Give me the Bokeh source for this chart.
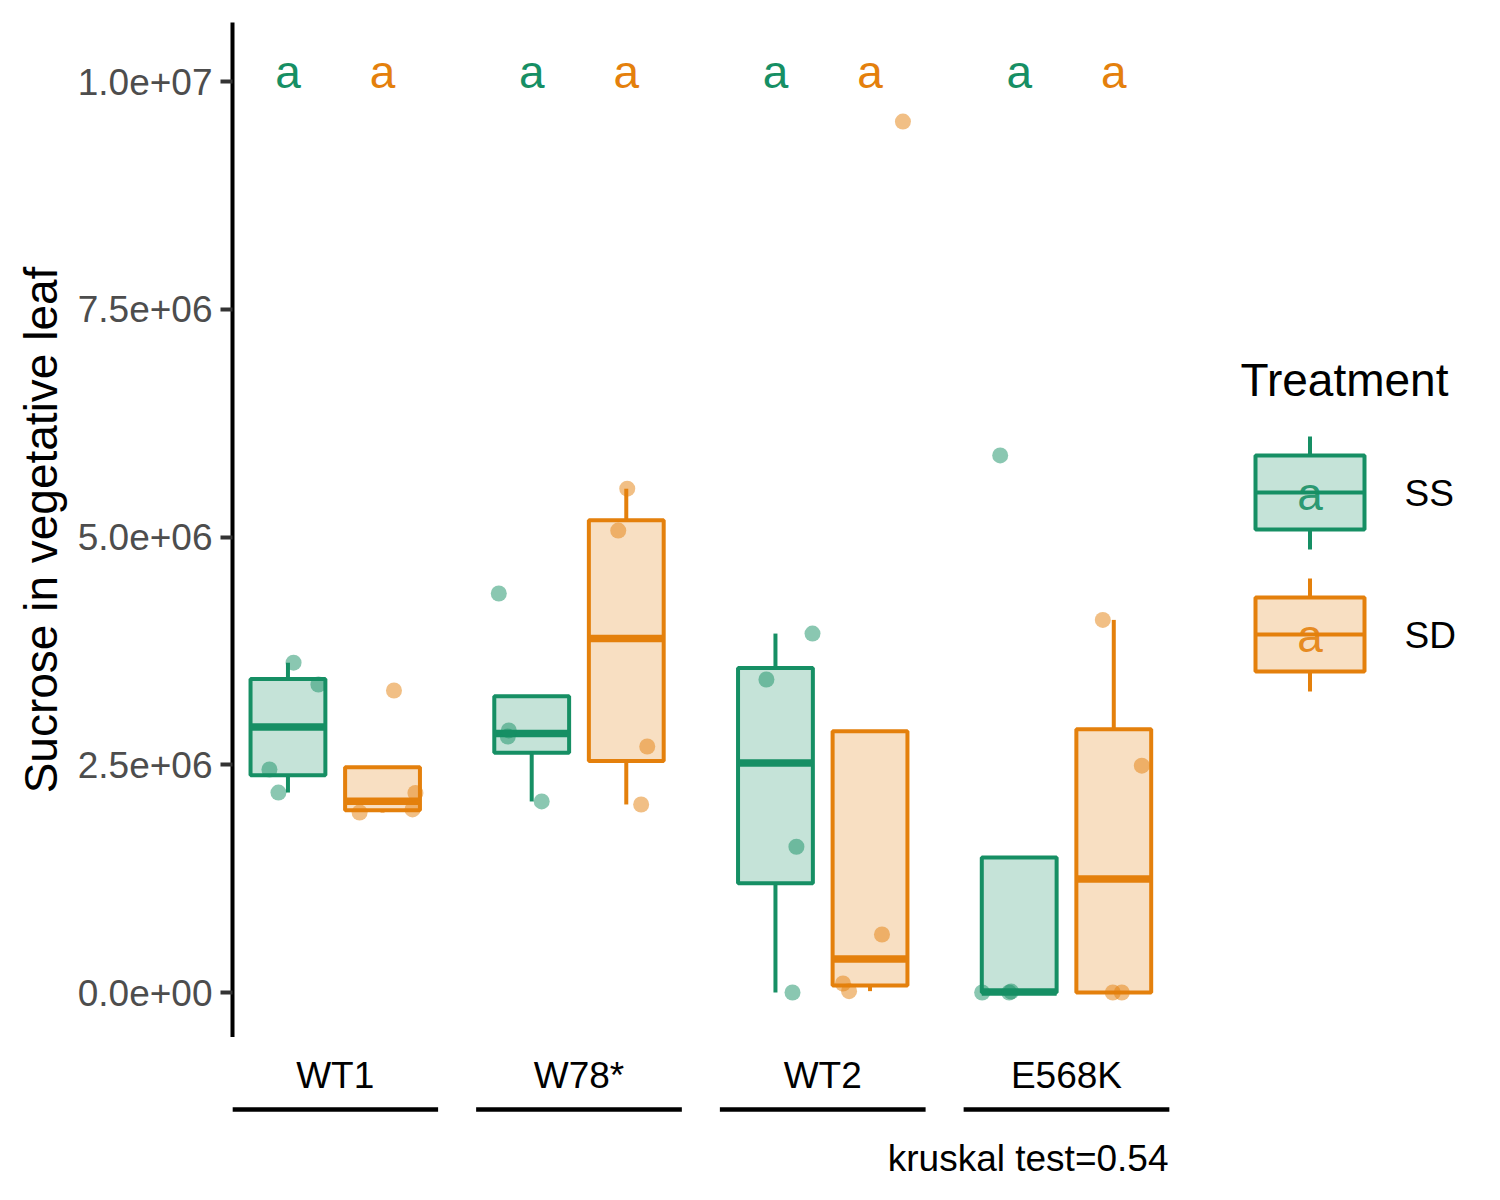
import numpy as np
from bokeh.plotting import figure
from bokeh.layouts import column
from bokeh.models import Range1d, FixedTicker, CustomJSTickFormatter, ColumnDataSource
from bokeh.core.properties import value
from bokeh.embed import file_html
from bokeh.resources import INLINE

# ---------------- data ----------------
genotypes = ["WT1", "W78*", "WT2", "E568K"]
treatments = ["SS", "SD"]
line_colors = ["#168F64", "#E4800C"]

# sucrose in vegetative leaf, one list per genotype
ss_values = [
    [3.62e6, 3.38e6, 2.448e6, 2.195e6],
    [4.38e6, 2.809e6, 2.877e6, 2.097e6],
    [3.94e6, 3.436e6, 1.60e6, 0.0],
    [5.895e6, 0.0, 0.0, 0.01e6],
]
sd_values = [
    [3.315e6, 2.19e6, 1.976e6, 2.01e6],
    [5.53e6, 5.07e6, 2.70e6, 2.064e6],
    [9.56e6, 0.637e6, 0.099e6, 0.015e6],
    [4.09e6, 2.49e6, 0.0, 0.0],
]
# horizontal jitter of each point (category units)
ss_jitter = [
    [0.023, 0.125, -0.076, -0.039],
    [-0.135, -0.098, -0.094, 0.041],
    [0.152, -0.037, 0.086, 0.070],
    [-0.078, -0.152, -0.041, -0.033],
]
sd_jitter = [
    [0.047, 0.135, -0.094, 0.123],
    [0.004, -0.033, 0.086, 0.061],
    [0.135, 0.049, -0.111, -0.086],
    [-0.045, 0.115, -0.004, 0.033],
]
ss_letters = ["a", "a", "a", "a"]
sd_letters = ["a", "a", "a", "a"]
letter_y = 1.01e7
y_ticks = [0, 2.5e6, 5.0e6, 7.5e6, 1.0e7]
y_title = "Sucrose in vegetative leaf"
legend_title = "Treatment"
caption = "kruskal test=0.54"

values_by_trt = [ss_values, sd_values]
jitter_by_trt = [ss_jitter, sd_jitter]
letters_by_trt = [ss_letters, sd_letters]

# ---------------- layout constants ----------------
FONT = "Liberation Sans"
DODGE = 0.194
BOX_W = 0.307
X0 = 0.5785            # left edge of panel in category units
PX_PER_CAT = 243.75
PX_PER_UNIT = 91.1e-6  # pixels per y unit
Y0_PX = 992.0


def dx(px):
    return X0 + (px - 232.0) / PX_PER_CAT


def dy(py):
    return (Y0_PX - py) / PX_PER_UNIT


def box_stats(v):
    v = np.asarray(v, dtype=float)
    q = np.percentile(v, [0, 25, 50, 75, 100])
    iqr = q[3] - q[1]
    out = (v < q[1] - 1.5 * iqr) | (v > q[3] + 1.5 * iqr)
    if out.any():
        rng = np.concatenate([q[1:4], v[~out]])
        q[0], q[4] = rng.min(), rng.max()
    return q


xr = Range1d(X0, dx(1480))
p = figure(width=1480, height=1037, output_backend="svg", toolbar_location=None,
           x_range=xr, y_range=Range1d(dy(1037), dy(22)),
           x_axis_location=None, min_border_left=232, min_border_top=22,
           min_border_bottom=0, min_border_right=0)
p.outline_line_color = None
p.xgrid.visible = False
p.ygrid.visible = False
p.background_fill_color = "white"
p.border_fill_color = "white"

yax = p.yaxis[0]
yax.ticker = FixedTicker(ticks=y_ticks)
yax.formatter = CustomJSTickFormatter(code="""
const s = tick.toExponential(1);
const parts = s.split("e");
let e = parts[1];
const sign = e[0] === "-" ? "-" : "+";
e = e.replace("+", "").replace("-", "");
if (e.length < 2) { e = "0" + e; }
return parts[0] + "e" + sign + e;
""")
yax.axis_line_color = "black"
yax.axis_line_width = 4
yax.major_tick_line_color = "#333333"
yax.major_tick_line_width = 4
yax.major_tick_out = 12
yax.major_tick_in = 0
yax.minor_tick_line_color = None
yax.major_label_text_font = FONT
yax.major_label_text_font_size = "37px"
yax.major_label_text_color = "#4D4D4D"
yax.major_label_standoff = 8
yax.axis_label = y_title
yax.axis_label_text_font = FONT
yax.axis_label_text_font_size = "46px"
yax.axis_label_text_font_style = "normal"
yax.axis_label_text_color = "black"
yax.axis_label_standoff = 8

for ti, trt in enumerate(treatments):
    col = line_colors[ti]
    sign = -1 if ti == 0 else 1
    cx, q0, q1, q2, q3, q4 = [], [], [], [], [], []
    px, py = [], []
    for gi, g in enumerate(genotypes):
        c = gi + 1 + sign * DODGE
        st = box_stats(values_by_trt[ti][gi])
        cx.append(c)
        q0.append(st[0]); q1.append(st[1]); q2.append(st[2]); q3.append(st[3]); q4.append(st[4])
        for v, j in zip(values_by_trt[ti][gi], jitter_by_trt[ti][gi]):
            px.append(c + j)
            py.append(v)
    cx = np.array(cx)
    src = ColumnDataSource(dict(x=cx, left=cx - BOX_W / 2, right=cx + BOX_W / 2,
                                q0=q0, q1=q1, q2=q2, q3=q3, q4=q4))
    p.segment(x0="x", y0="q3", x1="x", y1="q4", source=src, line_color=col, line_width=4)
    p.segment(x0="x", y0="q0", x1="x", y1="q1", source=src, line_color=col, line_width=4)
    p.quad(left="left", right="right", bottom="q1", top="q3", source=src,
           fill_color=col, fill_alpha=0.25, line_color=col, line_width=4)
    p.segment(x0="left", y0="q2", x1="right", y1="q2", source=src, line_color=col, line_width=7.5)
    p.scatter(px, py, size=16, fill_color=col, fill_alpha=0.5, line_color=None)
    p.text(x=cx, y=[letter_y] * len(cx), text=letters_by_trt[ti], text_color=col,
           text_font=value(FONT), text_font_size="46px", text_align="center",
           text_baseline="middle")

# legend
p.text(x=[dx(1240)], y=[dy(379)], text=[legend_title], text_color="black",
       text_font=value(FONT), text_font_size="46px", text_align="left",
       text_baseline="middle")
for ti, trt in enumerate(treatments):
    col = line_colors[ti]
    off = 142 * ti
    lx, rx, mx = dx(1255), dx(1364), dx(1309.5)
    p.segment(x0=[mx, mx], y0=[dy(436 + off), dy(549 + off)], x1=[mx, mx],
              y1=[dy(455 + off), dy(529 + off)], line_color=col, line_width=4)
    p.quad(left=[lx], right=[rx], bottom=[dy(529 + off)], top=[dy(455 + off)],
           fill_color=col, fill_alpha=0.25, line_color=col, line_width=4)
    p.segment(x0=[lx], y0=[dy(492 + off)], x1=[rx], y1=[dy(492 + off)],
              line_color=col, line_width=4)
    p.text(x=[mx], y=[dy(493 + off)], text=[letters_by_trt[ti][0]], text_color=col,
           text_font=value(FONT), text_font_size="46px", text_align="center",
           text_baseline="middle", text_alpha=0.9)
    p.text(x=[dx(1404)], y=[dy(493 + off)], text=[trt], text_color="black",
           text_font=value(FONT), text_font_size="37px", text_align="left",
           text_baseline="middle")

# ---------------- bottom strip: category labels, underlines, caption ----------------
p2 = figure(width=1480, height=143, output_backend="svg", toolbar_location=None,
            x_range=xr, y_range=Range1d(1180, 1037),
            x_axis_location=None, y_axis_location=None,
            min_border_left=232, min_border_top=0, min_border_bottom=0, min_border_right=0)
p2.outline_line_color = None
p2.xgrid.visible = False
p2.ygrid.visible = False
p2.background_fill_color = "white"
p2.border_fill_color = "white"

cats_x = np.arange(1, len(genotypes) + 1)
p2.text(x=cats_x, y=[1075] * len(cats_x), text=genotypes, text_color="black",
        text_font=value(FONT), text_font_size="37px", text_align="center",
        text_baseline="middle")
p2.segment(x0=cats_x - 0.422, y0=[1109] * len(cats_x), x1=cats_x + 0.422,
           y1=[1109] * len(cats_x), line_color="black", line_width=4.5)
p2.text(x=[dx(1168)], y=[1158], text=[caption], text_color="black",
        text_font=value(FONT), text_font_size="37px", text_align="right",
        text_baseline="middle")

layout = column(p, p2, spacing=0)
open("out.html", "w").write(file_html(layout, INLINE))
